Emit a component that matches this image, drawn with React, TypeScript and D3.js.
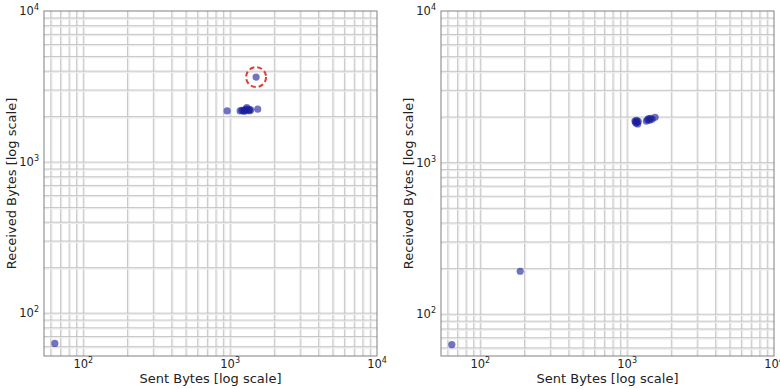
import React from "react";
import * as d3 from "d3";

// Sent / received byte counts per session, two captures
const leftSent = [64, 954, 1502, 1170, 1200, 1230, 1250, 1260, 1280, 1300, 1320, 1340, 1360, 1380, 1540];
const leftRecv = [63, 2180, 3650, 2180, 2200, 2190, 2170, 2210, 2240, 2290, 2200, 2230, 2190, 2220, 2240];

const rightSent = [64, 187, 1130, 1150, 1160, 1170, 1180, 1140, 1190, 1350, 1380, 1400, 1420, 1450, 1480, 1550];
const rightRecv = [63, 192, 1880, 1820, 1900, 1850, 1800, 1860, 1870, 1880, 1920, 1950, 1900, 1960, 1930, 1990];

// highlighted session in the first capture
const highlightIndex = 2;

const xTickExps = [2, 3, 4];
const yTickExps = [2, 3, 4];
const xLabel = "Sent Bytes [log scale]";
const yLabel = "Received Bytes [log scale]";

type PanelProps = {
  x0: number;
  x1: number;
  y0: number;
  y1: number;
  xMin: number;
  yMin: number;
  sent: number[];
  recv: number[];
  highlight?: number;
};

function gridValues(min: number, max: number): number[] {
  const vals: number[] = [];
  for (let e = 1; e <= 4; e++) {
    for (let m = 1; m <= 9; m++) {
      const v = m * Math.pow(10, e);
      if (v > min && v < max) vals.push(v);
    }
  }
  return vals;
}

function Pow({ x, y, exp, anchor }: { x: number; y: number; exp: number; anchor: string }) {
  return (
    <text x={x} y={y} textAnchor={anchor} fontSize={11.5} fill="#222" fontFamily="DejaVu Sans, sans-serif">
      10
      <tspan dy={-5} fontSize={8}>{exp}</tspan>
    </text>
  );
}

function Panel({ x0, x1, y0, y1, xMin, yMin, sent, recv, highlight }: PanelProps) {
  const xs = d3.scaleLog().domain([xMin, 10000]).range([x0, x1]);
  const ys = d3.scaleLog().domain([yMin, 10000]).range([y1, y0]);
  const xg = gridValues(xMin, 10000);
  const yg = gridValues(yMin, 10000);
  const midX = (x0 + x1) / 2;
  const midY = (y0 + y1) / 2;
  return (
    <g>
      <rect x={x0} y={y0} width={x1 - x0} height={y1 - y0} fill="#fff" />
      {xg.map((v, i) => (
        <g key={"xg" + i}>
          <line x1={xs(v) + 1} x2={xs(v) + 1} y1={y0} y2={y1} stroke="#ececec" strokeWidth={1.6} />
          <line x1={xs(v)} x2={xs(v)} y1={y0} y2={y1} stroke="#b4b4b4" strokeWidth={0.7} />
        </g>
      ))}
      {yg.map((v, i) => (
        <g key={"yg" + i}>
          <line y1={ys(v) + 1} y2={ys(v) + 1} x1={x0} x2={x1} stroke="#ececec" strokeWidth={1.6} />
          <line y1={ys(v)} y2={ys(v)} x1={x0} x2={x1} stroke="#b4b4b4" strokeWidth={0.7} />
        </g>
      ))}
      <rect x={x0} y={y0} width={x1 - x0} height={y1 - y0} fill="none" stroke="#808080" strokeWidth={1} />
      {sent.map((s, i) => (
        <circle key={"p" + i} cx={xs(s)} cy={ys(recv[i])} r={3.6} fill="#1a1f9c" fillOpacity={0.62} />
      ))}
      {highlight !== undefined && (
        <circle
          cx={xs(sent[highlight])}
          cy={ys(recv[highlight])}
          r={10}
          fill="none"
          stroke="#e23b3b"
          strokeWidth={2}
          strokeDasharray="5,3"
        />
      )}
      {xTickExps.map((e) => (
        <Pow key={"xt" + e} x={xs(Math.pow(10, e))} y={y1 + 12} exp={e} anchor="middle" />
      ))}
      {yTickExps.map((e) => (
        <Pow key={"yt" + e} x={x0 - 5} y={ys(Math.pow(10, e)) + 4} exp={e} anchor="end" />
      ))}
      <text x={midX} y={y1 + 27} textAnchor="middle" fontSize={13} fill="#222" fontFamily="DejaVu Sans, sans-serif">
        {xLabel}
      </text>
      <text
        transform={`translate(${x0 - 28},${midY}) rotate(-90)`}
        textAnchor="middle"
        fontSize={13}
        fill="#222"
        fontFamily="DejaVu Sans, sans-serif"
      >
        {yLabel}
      </text>
    </g>
  );
}

export default function App() {
  return (
    <div style={{ position: "absolute", left: 0, top: 0 }}>
      <svg width={780} height={389} style={{ display: "block", background: "#fff" }}>
        <Panel x0={44} x1={377} y0={11} y1={356} xMin={54} yMin={52} sent={leftSent} recv={leftRecv} highlight={highlightIndex} />
        <Panel x0={441} x1={774} y0={11} y1={356} xMin={54} yMin={53} sent={rightSent} recv={rightRecv} />
      </svg>
    </div>
  );
}
